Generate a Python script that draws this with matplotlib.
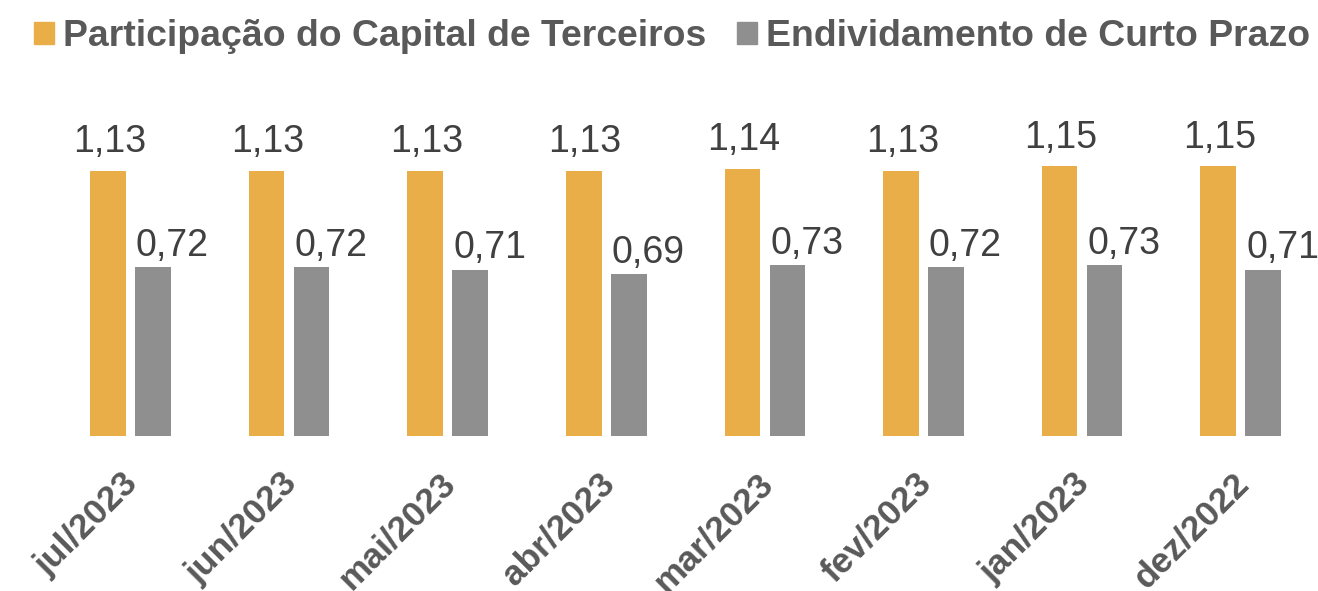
import matplotlib
matplotlib.use("Agg")
import matplotlib.pyplot as plt
import matplotlib.transforms as mtransforms
from matplotlib.patches import Patch
import numpy as np

categories = ["jul/2023", "jun/2023", "mai/2023", "abr/2023", "mar/2023", "fev/2023", "jan/2023", "dez/2022"]
series_names = ["Participação do Capital de Terceiros", "Endividamento de Curto Prazo"]
pct_values = [1.13, 1.13, 1.13, 1.13, 1.14, 1.13, 1.15, 1.15]
end_values = [0.72, 0.72, 0.71, 0.69, 0.73, 0.72, 0.73, 0.71]

ORANGE = "#EAAE48"
GREY = "#8F8F8F"
LABEL_C = "#404040"
TICK_C = "#595959"

plt.rcParams['font.family'] = ['Liberation Sans', 'DejaVu Sans']

W, H = 1318, 591
fig = plt.figure(figsize=(W / 100, H / 100), dpi=100)
spacing_px = 158.6
first_px = 130.5
base_px = 436
ax = fig.add_axes([0, (H - base_px) / H, 1, base_px / H])
ax.set_xlim(-first_px / spacing_px, (W - first_px) / spacing_px)
unit_px = 234.5
ax.set_ylim(0, base_px / unit_px)

x = np.arange(len(categories))
bw = 0.225
off = 0.142
ax.bar(x - off, pct_values, bw, color=ORANGE, label=series_names[0])
ax.bar(x + off, end_values, bw, color=GREY, label=series_names[1])

for xi, v in zip(x, pct_values):
    ax.annotate(f"{v:.2f}".replace(".", ","), (xi - off, v), xytext=(1, 13.5),
                textcoords="offset points", ha="center", va="baseline",
                fontsize=27, color=LABEL_C)
for xi, v in zip(x, end_values):
    ax.annotate(f"{v:.2f}".replace(".", ","), (xi + off, v), xytext=(14, 8),
                textcoords="offset points", ha="center", va="baseline",
                fontsize=27, color=LABEL_C)

for s in ax.spines.values():
    s.set_visible(False)
ax.set_yticks([])
ax.set_xticks(x)
ax.set_xticklabels(categories, rotation=45, ha="right", rotation_mode="anchor",
                   fontsize=25.5, fontweight="bold", color=TICK_C)
ax.tick_params(axis="x", length=0, pad=22)
shift = mtransforms.ScaledTranslation(-9 / 100, 0, fig.dpi_scale_trans)
for lab in ax.get_xticklabels():
    lab.set_transform(lab.get_transform() + shift)

handles = [Patch(color=ORANGE), Patch(color=GREY)]
leg = fig.legend(handles, series_names, loc="center", bbox_to_anchor=(672 / W, 1 - 37 / H),
                 ncol=2, frameon=False, prop={'weight': 'bold', 'size': 26.9},
                 handlelength=0.54, handleheight=0.54, handletextpad=0.25,
                 columnspacing=0.8, borderpad=0, borderaxespad=0)
for t in leg.get_texts():
    t.set_color(TICK_C)

fig.savefig("out.png", dpi=100)
